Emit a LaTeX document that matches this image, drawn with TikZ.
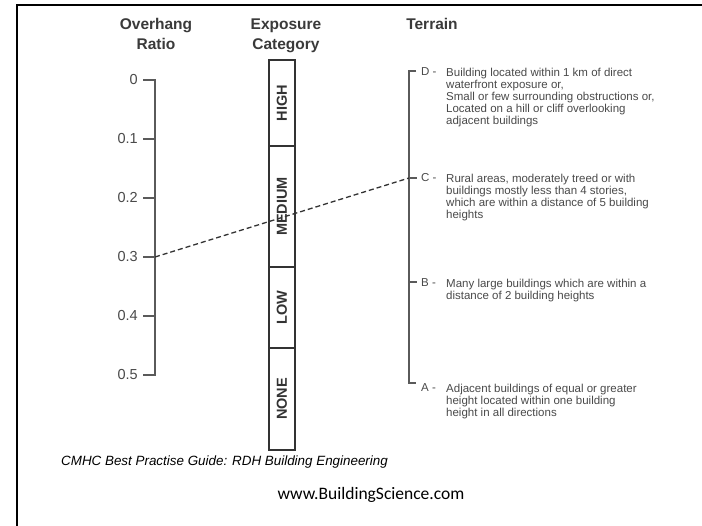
\documentclass[tikz,border=0pt]{standalone}
\usepackage{fontspec}
\setmainfont{Liberation Sans}
\newfontfamily\urlfont{Carlito}
\definecolor{txt}{HTML}{4A4A4A}
\definecolor{hdrc}{HTML}{3A3A3A}
\definecolor{scalec}{HTML}{5A5A5A}
\definecolor{boxc}{HTML}{333333}
\tikzset{
  hdr/.style={font=\bfseries\fontsize{15.5}{20}\selectfont, text=hdrc, anchor=base, inner sep=0},
  ticklbl/.style={font=\fontsize{14.5}{16}\selectfont, text=txt, anchor=east, inner sep=0},
  scaleline/.style={draw=scalec, line width=1.8pt},
  expbox/.style={draw=boxc, line width=1.5pt, fill=white, rotate=90, minimum height=26pt, inner sep=0,
     font=\bfseries\fontsize{14.5}{16}\selectfont, text=boxc},
  letter/.style={font=\fontsize{11.5}{12}\selectfont, text=txt, anchor=west, inner sep=0},
  desc/.style={font=\fontsize{11.5}{12}\selectfont, text=txt, anchor=north west, align=left, inner sep=0},
  dashline/.style={draw=boxc, line width=1.3pt, dash pattern=on 5pt off 3pt},
}
\begin{document}
\begin{tikzpicture}[x=1pt,y=-1pt]
\useasboundingbox (0,0) rectangle (702,526);
\fill[white] (0,0) rectangle (702,526);
% frame
\coordinate (fbl) at (17,526);
\coordinate (ftl) at (17,5);
\coordinate (ftr) at (702,5);
\draw[line width=2pt, black] (fbl) -- (ftl) -- (ftr);

% headers
\node[hdr] (hOver1) at (156,30) {Overhang};
\node[hdr] (hOver2) at (156,50) {Ratio};
\node[hdr] (hExp1) at (286,30) {Exposure};
\node[hdr] (hExp2) at (286,50) {Category};
\node[hdr] (hTer) at (432,30) {Terrain};

% overhang scale
\foreach \i/\lab in {0/0,1/0.1,2/0.2,3/0.3,4/0.4,5/0.5}{
  \coordinate (o\i) at (155,80+59*\i);
  \coordinate (ot\i) at (143,80+59*\i);
  \node[ticklbl] (ol\i) at (138,80+59*\i) {\lab};
}
\draw[scaleline] (ot0) -- (o0) -- (o5) -- (ot5);
\foreach \i in {1,2,3,4}{ \draw[scaleline] (o\i) -- (ot\i); }

% exposure boxes
\node[expbox, minimum width=86pt] (high) at (282,103) {HIGH};
\node[expbox, minimum width=121pt] (medium) at (282,206.5) {MEDIUM};
\node[expbox, minimum width=81pt] (low) at (282,307.5) {LOW};
\node[expbox, minimum width=102pt] (none) at (282,399) {NONE};

% terrain scale
\coordinate (tD) at (409,71);  \coordinate (tDe) at (416,71);
\coordinate (tC) at (409,178); \coordinate (tCe) at (417,178);
\coordinate (tB) at (409,282); \coordinate (tBe) at (417,282);
\coordinate (tA) at (409,383); \coordinate (tAe) at (416,383);
\draw[scaleline] (tDe) -- (tD) -- (tA) -- (tAe);
\draw[scaleline] (tC) -- (tCe);
\draw[scaleline] (tB) -- (tBe);

% dashed reading line
\draw[dashline] (o3) -- (tC);

% terrain texts
\node[letter] (lD) at (421,72) {D -};
\node[desc] (dD) at (446,67.5) {Building located within 1 km of direct\\waterfront exposure or,\\Small or few surrounding obstructions or,\\Located on a hill or cliff overlooking\\adjacent buildings};
\node[letter] (lC) at (421,178) {C -};
\node[desc] (dC) at (446,173.5) {Rural areas, moderately treed or with\\buildings mostly less than 4 stories,\\which are within a distance of 5 building\\heights};
\node[letter] (lB) at (421,283) {B -};
\node[desc] (dB) at (446,278.5) {Many large buildings which are within a\\distance of 2 building heights};
\node[letter] (lA) at (421,388) {A -};
\node[desc] (dA) at (446,383.5) {Adjacent buildings of equal or greater\\height located within one building\\height in all directions};

% captions
\node[font=\itshape\fontsize{13.4}{15}\selectfont, anchor=west, inner sep=0] (cap) at (61,462) {CMHC Best Practise Guide: RDH Building Engineering};
\node[font=\urlfont\fontsize{17.5}{19}\selectfont, inner sep=0] (url) at (371,495) {www.BuildingScience.com};
\end{tikzpicture}
\end{document}
